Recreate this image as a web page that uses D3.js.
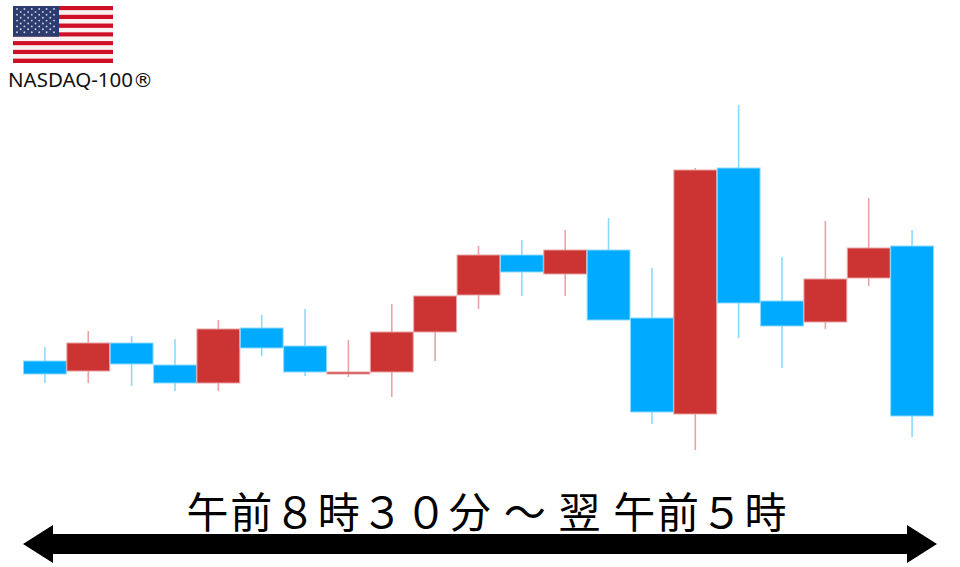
<!DOCTYPE html>
<html lang="ja"><head><meta charset="utf-8">
<script src="https://cdn.jsdelivr.net/npm/d3@7"></script>
<style>html,body{margin:0;background:#fff}svg{display:block}</style></head>
<body><svg id="c" width="960" height="567"></svg>
<script>
// Price-like values (height units above the chart floor)
const periods = d3.range(1, 22);
const open  = [206,196,224,202,184,239,221,193,195,235,272,312,293,317,249,153,399,266,245,289,321];
const close = [193,224,203,184,238,219,195,195,235,271,312,295,317,247,155,397,264,241,288,319,151];
const high  = [220,236,231,228,247,252,258,227,263,271,321,327,337,349,299,399,462,310,346,369,337];
const low   = [184,184,181,176,176,211,191,190,170,206,258,271,271,247,143,117,229,199,238,281,130];

const flagStripes = d3.range(13);
const flagStarRows = d3.range(9);
const title = "午前８時３０分 ～ 翌 午前５時";
const indexName = "NASDAQ-100";
const registered = "®";
const arrowEnds = [0, 1];

const svg = d3.select("#c");
const x = d3.scaleBand().domain(periods).range([23.5, 933.5]).paddingInner(0.012).paddingOuter(0);
const y = d3.scaleLinear().domain([0, 567]).range([567, 0]);

const blue = "#00aaff", red = "#cc3333";
const col = (i) => close[i] >= open[i] ? red : blue;

const g = svg.append("g");
g.selectAll("line.w").data(periods).join("line").attr("class", "w")
  .attr("x1", d => x(d) + x.bandwidth() / 2).attr("x2", d => x(d) + x.bandwidth() / 2)
  .attr("y1", (d, i) => y(high[i])).attr("y2", (d, i) => y(low[i]))
  .attr("stroke", (d, i) => col(i)).attr("stroke-opacity", .45).attr("stroke-width", 1.6);
g.selectAll("rect.b").data(periods).join("rect").attr("class", "b")
  .attr("x", d => x(d)).attr("width", x.bandwidth())
  .attr("y", (d, i) => y(Math.max(open[i], close[i])))
  .attr("height", (d, i) => Math.abs(y(open[i]) - y(close[i])))
  .attr("fill", (d, i) => col(i))
  .attr("stroke", (d, i) => d3.interpolateRgb(col(i), "#fff")(.55)).attr("stroke-width", 1);

// Flag
const fx = d3.scaleLinear().domain([0, 1]).range([13, 113]);
const fy = d3.scaleBand().domain(flagStripes).range([6, 63]);
const flag = svg.append("g");
flag.selectAll("rect.s").data(flagStripes).join("rect").attr("class", "s")
  .attr("x", fx(0)).attr("width", fx(1) - fx(0))
  .attr("y", d => fy(d)).attr("height", fy.bandwidth())
  .attr("fill", d => d % 2 ? "#f8f2f3" : "#cf0f26");
flag.append("rect").attr("x", fx(0)).attr("y", 6).attr("width", fx(.46) - fx(0)).attr("height", fy(7) - 6).attr("fill", "#2d3c6e");
flagStarRows.forEach(r => {
  const n = r % 2 ? 5 : 6;
  flag.selectAll(null).data(d3.range(n)).join("circle")
    .attr("cx", c => fx(.04) + (r % 2 ? 3.7 : 0) + c * 7.4)
    .attr("cy", 9 + r * 2.9).attr("r", .95).attr("fill", "#c9cee0");
});
svg.append("text").attr("x", 8).attr("y", 87).attr("font-family", "'Noto Sans'").attr("font-size", 19)
  .attr("textLength", 125).attr("lengthAdjust", "spacingAndGlyphs").attr("fill", "#111").text(indexName);
svg.append("text").attr("x", 133).attr("y", 87).attr("font-family", "'DejaVu Sans'").attr("font-size", 20)
  .attr("fill", "#111").text(registered);

// Title
svg.append("text").attr("x", 486.5).attr("y", 528).attr("text-anchor", "middle")
  .attr("font-family", "'Noto Sans CJK JP'").attr("font-size", 42).attr("fill", "#000").attr("textLength", 600).text(title);

// Double arrow
const ax = d3.scaleLinear().domain([0, 1]).range([23, 937]);
const line = d3.line();
const dir = (e) => e ? -1 : 1;
svg.append("rect").attr("x", ax(0) + 29).attr("y", 534).attr("width", ax(1) - ax(0) - 58).attr("height", 20).attr("fill", "#000");
svg.selectAll("path.h").data(arrowEnds).join("path").attr("class", "h")
  .attr("d", e => line([[ax(e), 544], [ax(e) + dir(e) * 30, 525], [ax(e) + dir(e) * 30, 563]]) + "Z").attr("fill", "#000");
</script></body></html>
